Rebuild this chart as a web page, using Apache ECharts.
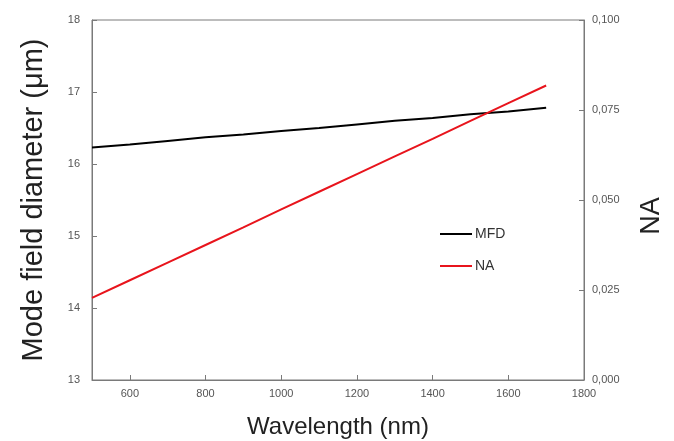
<!DOCTYPE html>
<html>
<head>
<meta charset="utf-8">
<script src="https://cdn.jsdelivr.net/npm/echarts@6/dist/echarts.min.js"></script>
<style>html,body{margin:0;padding:0;background:#fff}#c{width:674px;height:441px}</style>
</head>
<body>
<div id="c"></div>
<script>
const wavelengths = [500, 600, 700, 800, 900, 1000, 1100, 1200, 1300, 1400, 1500, 1600, 1700];
const mfdValues = [16.23, 16.27, 16.32, 16.37, 16.41, 16.46, 16.50, 16.55, 16.60, 16.64, 16.69, 16.73, 16.78];
const naValues = [0.0228, 0.0277, 0.0326, 0.0375, 0.0424, 0.0474, 0.0523, 0.0572, 0.0621, 0.0670, 0.0720, 0.0769, 0.0818];
const xTicks = [600, 800, 1000, 1200, 1400, 1600, 1800];
const leftTicks = [13, 14, 15, 16, 17, 18];
const rightTicks = [0, 0.025, 0.05, 0.075, 0.1];

const axisGrey = '#7a7a7a';
const font = 'Liberation Sans, Arial, sans-serif';
const labelStyle = { color: '#555', fontSize: 11, fontFamily: font };

const chart = echarts.init(document.getElementById('c'), null, { renderer: 'canvas' });
chart.setOption({
  animation: false,
  backgroundColor: '#fff',
  grid: {
    left: 92, right: 90, top: 20, bottom: 61, show: true, borderColor: axisGrey, borderWidth: 1,
    containLabel: false, outerBoundsMode: 'none'
  },
  legend: {
    orient: 'vertical', left: 435, top: 222, itemWidth: 32, itemHeight: 2, itemGap: 18,
    icon: 'rect',
    textStyle: { color: '#333', fontSize: 14, fontFamily: font, padding: [0, 0, 0, -2] },
    data: ['MFD', 'NA']
  },
  xAxis: {
    type: 'value', min: 500, max: 1800,
    name: 'Wavelength (nm)', nameLocation: 'middle', nameGap: 35,
    nameTextStyle: { color: '#222', fontSize: 24, fontFamily: font },
    axisLine: { show: true, lineStyle: { color: axisGrey } },
    axisTick: { show: true, inside: true, length: 5, customValues: xTicks, lineStyle: { color: axisGrey } },
    axisLabel: { customValues: xTicks, margin: 8, ...labelStyle, formatter: v => String(v) },
    splitLine: { show: false }
  },
  yAxis: [
    {
      type: 'value', min: 13, max: 18, interval: 1, position: 'left',
      name: 'Mode field diameter (μm)', nameLocation: 'middle', nameGap: 44, nameRotate: 90,
      nameTextStyle: { color: '#222', fontSize: 29, fontFamily: font },
      axisLine: { show: true, lineStyle: { color: axisGrey } },
      axisTick: { show: true, inside: true, length: 5, customValues: leftTicks, lineStyle: { color: axisGrey } },
      axisLabel: { customValues: leftTicks, margin: 12, ...labelStyle },
      splitLine: { show: false }
    },
    {
      type: 'value', min: 0, max: 0.1, interval: 0.025, position: 'right',
      name: 'NA', nameLocation: 'middle', nameGap: 54, nameRotate: 90,
      nameTextStyle: { color: '#222', fontSize: 27, fontFamily: font, padding: [0, 32, 0, 0] },
      axisLine: { show: true, lineStyle: { color: axisGrey } },
      axisTick: { show: true, inside: true, length: 5, customValues: rightTicks, lineStyle: { color: axisGrey } },
      axisLabel: {
        customValues: rightTicks, margin: 8, ...labelStyle,
        formatter: v => v.toFixed(3).replace('.', ',')
      },
      splitLine: { show: false }
    }
  ],
  series: [
    {
      name: 'MFD', type: 'line', yAxisIndex: 0, symbol: 'none',
      lineStyle: { color: '#000', width: 2 }, itemStyle: { color: '#000' },
      data: wavelengths.map((w, i) => [w, mfdValues[i]])
    },
    {
      name: 'NA', type: 'line', yAxisIndex: 1, symbol: 'none',
      lineStyle: { color: '#e8141c', width: 2 }, itemStyle: { color: '#e8141c' },
      data: wavelengths.map((w, i) => [w, naValues[i]])
    }
  ]
});
</script>
</body>
</html>
